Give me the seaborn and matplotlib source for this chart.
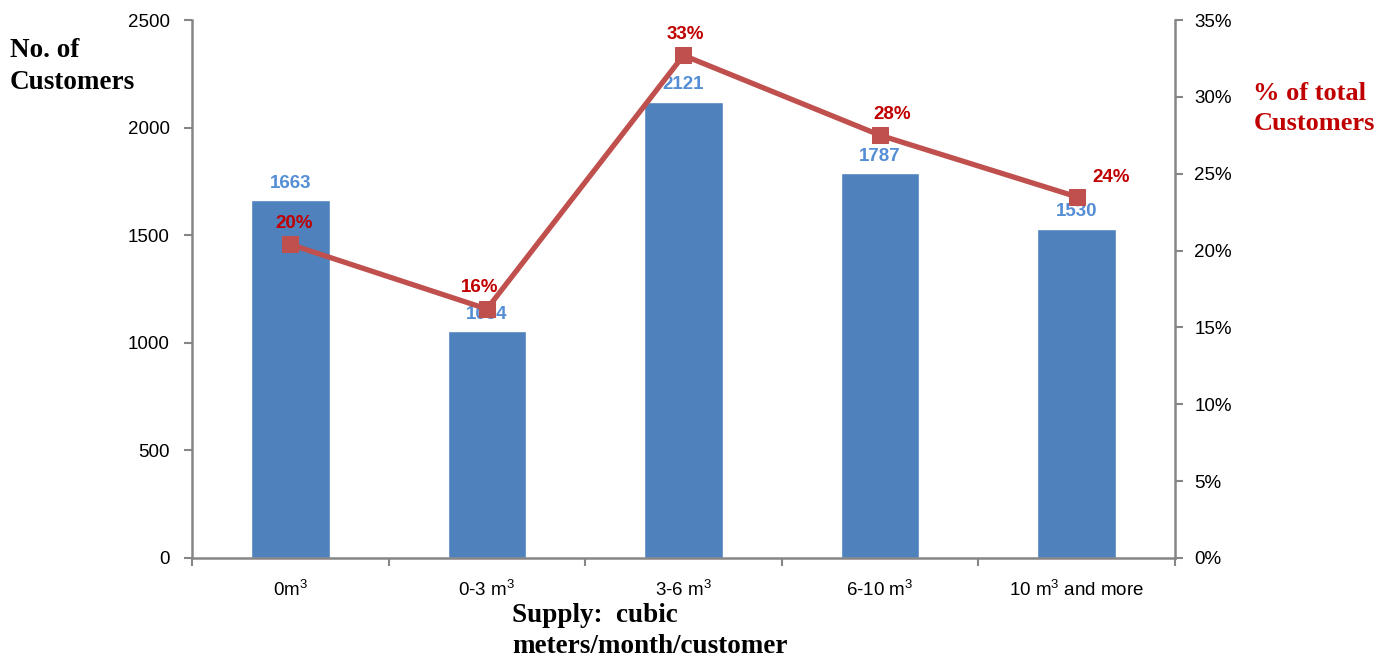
import matplotlib
matplotlib.use("Agg")
import matplotlib.pyplot as plt
import numpy as np
import seaborn as sns
from matplotlib.ticker import FixedLocator, PercentFormatter

# data
categories = ["0m$^3$", "0-3 m$^3$", "3-6 m$^3$", "6-10 m$^3$", "10 m$^3$ and more"]
customers = [1663, 1054, 2121, 1787, 1530]
pct_customers = [20.4, 16.2, 32.7, 27.5, 23.5]
pct_labels = ["20%", "16%", "33%", "28%", "24%"]

sns.set_style("white")
plt.rcParams["font.family"] = ["Liberation Sans", "DejaVu Sans"]
plt.rcParams["mathtext.fontset"] = "custom"
plt.rcParams["mathtext.rm"] = "Liberation Sans"
plt.rcParams["mathtext.it"] = "Liberation Sans:italic"

bar_color = "#4F81BD"
line_color = "#C0504D"
grey = "#868686"

fig = plt.figure(figsize=(13.85, 6.63), dpi=100)
ax = fig.add_axes([0.1386, 0.1584, 0.7098, 0.8114])

x = np.arange(len(categories))
sns.barplot(x=x, y=customers, color=bar_color, saturation=1, width=0.4, ax=ax, native_scale=True)
ax.set_xlim(-0.5, len(categories) - 0.5)
ax.set_ylim(0, 2500)
ax.set_yticks(range(0, 2501, 500))

# bar labels
for xi, v in zip(x, customers):
    ax.annotate(str(v), (xi, v), xytext=(0, 6), textcoords="offset points",
                ha="center", va="bottom", color="#558ED5", fontsize=13.5, fontweight="bold")

ax2 = ax.twinx()
sns.lineplot(x=x, y=pct_customers, color=line_color, linewidth=3.8, marker="s",
             markersize=11, markeredgecolor=line_color, ax=ax2)
ax2.set_ylim(0, 35)
ax2.set_yticks(range(0, 36, 5))
ax2.yaxis.set_major_formatter(PercentFormatter(decimals=0))

offsets = [(3, 9), (-5, 9), (1, 9), (9, 9), (25, 8)]
for xi, v, lab, off in zip(x, pct_customers, pct_labels, offsets):
    ax2.annotate(lab, (xi, v), xytext=off, textcoords="offset points",
                 ha="center", va="bottom", color="#C00000", fontsize=13.5, fontweight="bold")

# axes styling
for a in (ax, ax2):
    for s in a.spines.values():
        s.set_visible(False)
ax.spines["left"].set_visible(True)
ax.spines["left"].set_color(grey)
ax.spines["left"].set_linewidth(1.8)
ax.spines["bottom"].set_visible(True)
ax.spines["bottom"].set_color(grey)
ax.spines["bottom"].set_linewidth(1.8)
ax2.spines["right"].set_visible(True)
ax2.spines["right"].set_color(grey)
ax2.spines["right"].set_linewidth(1.8)

ax.tick_params(axis="y", left=True, direction="out", length=6, width=1.5, color=grey,
               labelsize=13.5, labelcolor="black", pad=10)
ax2.tick_params(axis="y", right=True, direction="out", length=6, width=1.5, color=grey,
                labelsize=13.5, labelcolor="black", pad=8)
ax.set_xticks(x)
ax.set_xticklabels(categories, fontsize=13.5, color="black")
ax.tick_params(axis="x", which="major", length=0, pad=16)
ax.xaxis.set_minor_locator(FixedLocator(np.arange(-0.5, len(categories), 1.0)))
ax.tick_params(axis="x", which="minor", bottom=True, direction="out", length=6, width=1.5, color=grey)
ax.set_xlabel("")
ax.set_ylabel("")
ax2.set_ylabel("")

serif = ["Liberation Serif", "DejaVu Serif"]
fig.text(0.007, 0.943, "No. of\nCustomers", family=serif, fontweight="bold", fontsize=19.5,
         ha="left", va="top", linespacing=1.4, color="black")
fig.text(0.905, 0.876, "% of total\nCustomers", family=serif, fontweight="bold", fontsize=19,
         color="#C00000", ha="left", va="top", linespacing=1.4)
fig.text(0.370, 0.006, "Supply:  cubic\nmeters/month/customer", family=serif,
         fontweight="bold", fontsize=19.5, ha="left", va="bottom", linespacing=1.3, color="black")

fig.savefig("out.png", dpi=100)
